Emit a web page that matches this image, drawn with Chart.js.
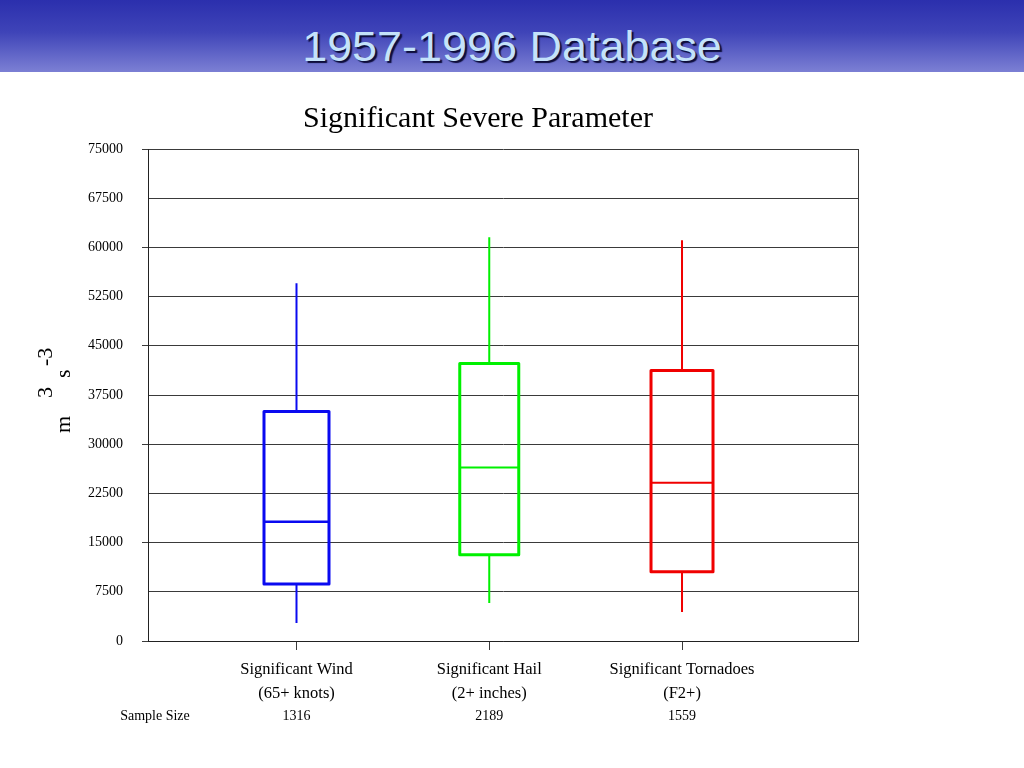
<!DOCTYPE html>
<html>
<head>
<meta charset="utf-8">
<script src="https://cdn.jsdelivr.net/npm/chart.js@4.4.1/dist/chart.umd.min.js"></script>
<style>
  html, body { margin: 0; padding: 0; background: #fff; }
  body { width: 1024px; height: 768px; position: relative; overflow: hidden; }
  #header {
    position: absolute; left: 0; top: 0; width: 1024px; height: 72px;
    background: linear-gradient(180deg, #2b2fad 0%, #3f44b8 45%, #7c80d4 100%);
  }
  #header span {
    position: absolute; left: 0; width: 1024px; top: 25px; text-align: center;
    font-family: "Liberation Sans", Arial, sans-serif; font-size: 43px; line-height: 1;
    color: #c4e2fa; text-shadow: 2px 2px 1px #0d0d3a;
    transform: scaleX(1.045);
  }
  #wrap { position: absolute; left: 0; top: 72px; width: 1024px; height: 696px; }
</style>
</head>
<body>
<div id="header"><span>1957-1996 Database</span></div>
<div id="wrap"><canvas id="chart"></canvas></div>
<script>
// box plot values (m^3 s^-3)
const categories = [
  ['Significant Wind', '(65+ knots)'],
  ['Significant Hail', '(2+ inches)'],
  ['Significant Tornadoes', '(F2+)']
];
const sampleSizes = [1316, 2189, 1559];
const whiskerLow = [2750, 5800, 4430];
const quartile1 = [8700, 13140, 10540];
const medians = [18180, 26430, 24130];
const quartile3 = [34980, 42310, 41240];
const whiskerHigh = [54530, 61560, 61100];

const yMin = 0;
const yMax = 75000;
const yStep = 7500;

const colors = ['#0a0af0', '#00f000', '#f00000'];
const boxWidths = [65, 59, 62];
const serif = '"Liberation Serif", "Times New Roman", serif';

// draws boxes + whiskers through the scales
const boxPlot = {
  id: 'boxPlot',
  afterDatasetsDraw(chart) {
    const { ctx, scales: { x, y } } = chart;
    ctx.save();
    ctx.lineJoin = 'round';
    categories.forEach((c, i) => {
      const cx = x.getPixelForValue(i + 1);
      const half = boxWidths[i] / 2;
      ctx.strokeStyle = colors[i];
      // whiskers
      ctx.lineWidth = 2;
      ctx.beginPath();
      ctx.moveTo(cx, y.getPixelForValue(quartile3[i]));
      ctx.lineTo(cx, y.getPixelForValue(whiskerHigh[i]));
      ctx.moveTo(cx, y.getPixelForValue(quartile1[i]));
      ctx.lineTo(cx, y.getPixelForValue(whiskerLow[i]));
      ctx.stroke();
      // box
      ctx.lineWidth = 3;
      const top = y.getPixelForValue(quartile3[i]);
      const bot = y.getPixelForValue(quartile1[i]);
      ctx.strokeRect(cx - half, top, half * 2, bot - top);
    });
    ctx.restore();
  }
};

// frame + extra texts
const extras = {
  id: 'extras',
  beforeDatasetsDraw(chart) {
    const { ctx, chartArea: a } = chart;
    ctx.save();
    ctx.strokeStyle = '#3a3a3a';
    ctx.lineWidth = 1;
    ctx.beginPath();
    ctx.moveTo(a.right + 0.5, a.top);
    ctx.lineTo(a.right + 0.5, a.bottom);
    ctx.stroke();
    ctx.restore();
  },
  afterDraw(chart) {
    const { ctx, scales: { x } } = chart;
    ctx.save();
    ctx.fillStyle = '#000';
    // title
    ctx.font = '30px ' + serif;
    ctx.textAlign = 'center';
    ctx.textBaseline = 'middle';
    ctx.fillText('Significant Severe Parameter', 478, 47);
    // sample size row
    ctx.font = '14px ' + serif;
    ctx.fillText('Sample Size', 155, 644);
    sampleSizes.forEach((n, i) => {
      ctx.fillText(String(n), x.getPixelForValue(i + 1), 644);
    });
    // y axis unit m^3 s^-3
    ctx.translate(70, 361);
    ctx.rotate(-Math.PI / 2);
    ctx.textAlign = 'left';
    ctx.textBaseline = 'alphabetic';
    ctx.font = '22px ' + serif;
    ctx.fillText('m', 0, 0);
    ctx.fillText('3', 35, -18);
    ctx.fillText('s', 55, 0);
    ctx.fillText('-3', 67, -18);
    ctx.restore();
  }
};

new Chart(document.getElementById('chart'), {
  type: 'scatter',
  data: {
    datasets: categories.map((c, i) => ({
      label: c.join(' '),
      data: [{ x: i + 1, y: medians[i] }],
      pointStyle: 'line',
      radius: boxWidths[i] / 2,
      hoverRadius: boxWidths[i] / 2,
      borderColor: colors[i],
      borderWidth: i === 0 ? 2.5 : 2
    }))
  },
  options: {
    responsive: true,
    maintainAspectRatio: false,
    animation: false,
    events: [],
    layout: { padding: { top: 77, right: 166, bottom: 0, left: 0 } },
    plugins: {
      legend: { display: false },
      tooltip: { enabled: false },
      title: { display: false }
    },
    scales: {
      x: {
        type: 'linear',
        min: 0.2296,
        max: 3.913,
        afterBuildTicks(axis) {
          axis.ticks = categories.map((c, i) => ({ value: i + 1 }));
        },
        afterFit(axis) { axis.height = 127; },
        ticks: {
          color: '#000',
          font: { family: serif, size: 16.5, lineHeight: 1.45 },
          padding: 8,
          maxRotation: 0,
          autoSkip: false,
          callback: (v) => categories[v - 1]
        },
        grid: { drawOnChartArea: false, drawTicks: true, tickLength: 9, color: '#3a3a3a' },
        border: { color: '#222', width: 1 }
      },
      y: {
        min: yMin,
        max: yMax,
        afterFit(axis) { axis.width = 148; },
        ticks: {
          stepSize: yStep,
          color: '#000',
          padding: 19,
          font: { family: serif, size: 14 },
          callback: (v) => String(v)
        },
        grid: {
          color: '#3a3a3a',
          tickLength: 6,
          tickColor: (ctx) => (ctx.tick && ctx.tick.value % 15000 === 0) ? '#3a3a3a' : 'rgba(0,0,0,0)'
        },
        border: { color: '#222', width: 1 }
      }
    }
  },
  plugins: [extras, boxPlot]
});
</script>
</body>
</html>
